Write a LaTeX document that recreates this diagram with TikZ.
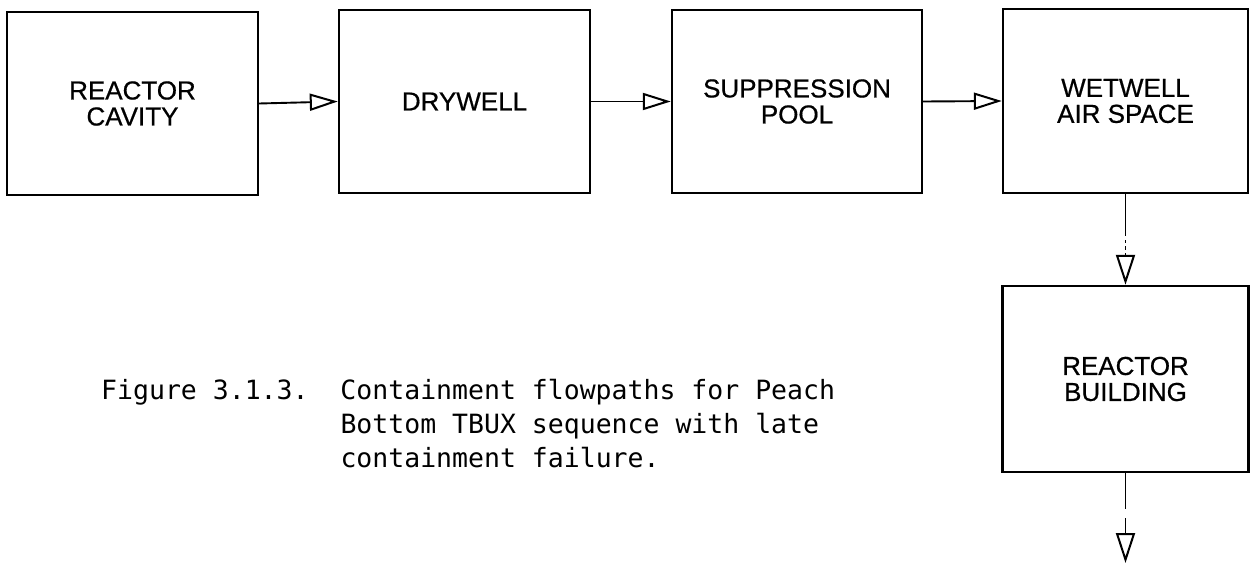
\documentclass[tikz,border=0pt]{standalone}
\usepackage{fontspec}
\setmainfont{Liberation Sans}[FakeBold=0.6]
\newfontfamily\capfont{DejaVu Sans Mono}
\usetikzlibrary{arrows.meta}
\tikzset{
  blk/.style={draw, line width=2.4pt, inner sep=0pt, align=center,
    font=\fontsize{26}{26}\selectfont},
  flow/.style={line width=1.9pt, -{Triangle[open, length=28pt, width=17pt, line width=2pt]}},
  vflow/.style={line width=1.9pt, -{Triangle[open, length=30pt, width=19pt, line width=2pt]}},
  captext/.style={anchor=north west, align=left, inner sep=0pt,
    font=\capfont\fontsize{26.5}{34}\selectfont}
}
\begin{document}
\begin{tikzpicture}[x=1pt, y=-1pt]
\useasboundingbox (0,0) rectangle (1250,565);
\node[blk, minimum width=251pt, minimum height=183pt] (rc) at (132.5,103.5) {REACTOR\\CAVITY};
\node[blk, minimum width=251pt, minimum height=183pt] (dw) at (464.5,101.5) {DRYWELL};
\node[blk, minimum width=250pt, minimum height=183pt] (sp) at (797,101.5) {SUPPRESSION\\POOL};
\node[blk, minimum width=245pt, minimum height=184pt] (ww) at (1125.5,101) {WETWELL\\AIR SPACE};
\node[blk, minimum width=246pt, minimum height=186pt] (rb) at (1125.5,379) {REACTOR\\BUILDING};
\coordinate (out) at (1125.5,563);
\draw[flow] (rc.east) -- (dw.west);
\draw[flow] (dw.east) -- (sp.west);
\draw[flow] (sp.east) -- (ww.west);
\draw[vflow, dash pattern=on 42pt off 4pt on 3pt off 3pt on 4pt off 3pt on 6pt] (ww.south) -- (rb.north);
\draw[vflow, dash pattern=on 36pt off 9pt on 20pt] (rb.south) -- (out);
\node[captext] (caption) at (101,379) {Figure 3.1.3.\ \ Containment flowpaths for Peach\\
\phantom{Figure 3.1.3.\ \ }Bottom TBUX sequence with late\\
\phantom{Figure 3.1.3.\ \ }containment failure.};
\end{tikzpicture}
\end{document}
